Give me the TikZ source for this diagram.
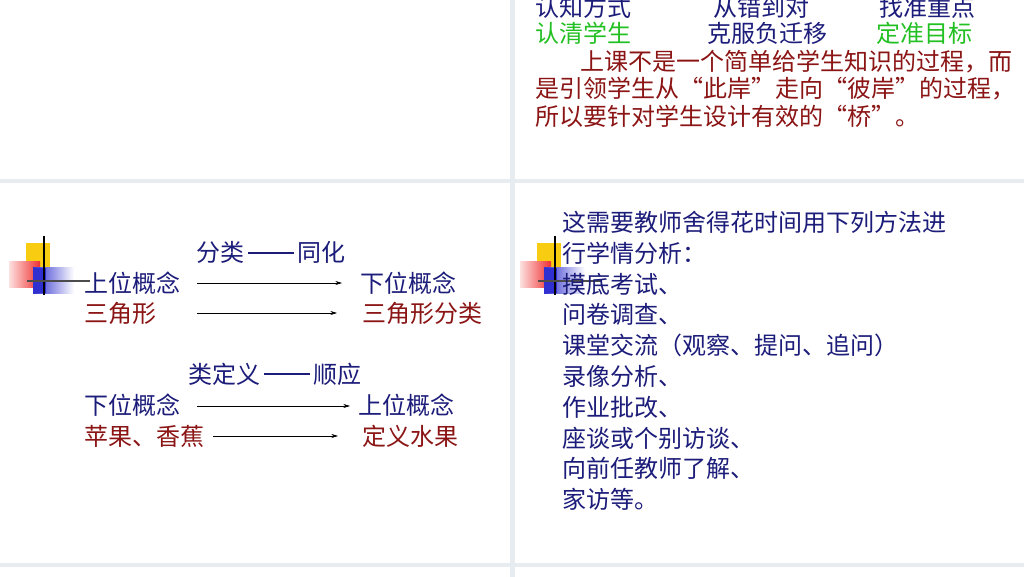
\documentclass[tikz,border=0pt]{standalone}
\usepackage{fontspec}
\setmainfont{Noto Sans CJK SC}
\usetikzlibrary{arrows.meta}
\definecolor{gapc}{HTML}{E6ECEF}
\definecolor{dblue}{HTML}{1C1C7A}
\definecolor{dred}{HTML}{8B1414}
\definecolor{lgreen}{HTML}{22C022}
\definecolor{yel}{HTML}{F8CC10}
\definecolor{rd}{HTML}{F03030}
\definecolor{bl}{HTML}{3030D0}
\newcommand{\ldash}{\,\rule[0.32em]{1.9em}{1.6pt}\,}
\tikzset{
 t/.style={anchor=base west,inner sep=0pt,font=\fontsize{18}{22}\selectfont},
 ar/.style={-{Stealth[length=5pt,width=3pt]},line width=0.5pt,black}
}
\newcommand{\deco}[2]{%
 \fill[yel] (#1+26,#2+243) rectangle (#1+50,#2+268);
 \shade[left color=rd!15,right color=rd] (#1+9,#2+262) rectangle (#1+40,#2+288);
 \shade[left color=bl,right color=white] (#1+33,#2+268) rectangle (#1+74,#2+293);
 \fill[bl] (#1+33,#2+268) rectangle (#1+46,#2+293);
 \draw[line width=1.2pt] (#1+44,#2+236) -- (#1+44,#2+295);
 \draw[line width=1.2pt,black!70] (#1+27,#2+281) -- (#1+90,#2+281);
}
\begin{document}
\begin{tikzpicture}[x=0.75pt,y=-0.75pt]
\useasboundingbox (0,0) rectangle (1024,577);
\fill[gapc] (0,0) rectangle (1024,577);
\fill[white] (0,0) rectangle (510,179);
\fill[white] (515,0) rectangle (1024,179);
\fill[white] (0,183) rectangle (510,563);
\fill[white] (515,183) rectangle (1024,563);
\fill[white] (0,567) rectangle (510,577);
\fill[white] (515,567) rectangle (1024,577);
% top right
\node[t,text=dblue] (a1) at (535,17) {认知方式};
\node[t,text=dblue] (a2) at (713,17) {从错到对};
\node[t,text=dblue] (a3) at (879,17) {找准重点};
\node[t,text=lgreen] (b1) at (535,43) {认清学生};
\node[t,text=dblue] (b2) at (707,43) {克服负迁移};
\node[t,text=lgreen] (b3) at (876,43) {定准目标};
\node[t,text=dred] (c1) at (580,71) {上课不是一个简单给学生知识的过程，而};
\node[t,text=dred] (c2) at (535,98) {是引领学生从“此岸”走向“彼岸”的过程，};
\node[t,text=dred] (c3) at (535,126) {所以要针对学生设计有效的“桥”。};
% left bottom
\deco{0}{0}
\node[t,text=dblue] (h1) at (196,262) {分类\ldash 同化};
\node[t,text=dblue] (l1) at (84,292) {上位概念};
\node[t,text=dblue] (r1) at (360,292) {下位概念};
\node[t,text=dred] (l2) at (84,322) {三角形};
\node[t,text=dred] (r2) at (362,322) {三角形分类};
\node[t,text=dblue] (h2) at (188,383) {类定义\ldash 顺应};
\node[t,text=dblue] (l3) at (84,414) {下位概念};
\node[t,text=dblue] (r3) at (358,414) {上位概念};
\node[t,text=dred] (l4) at (84,445) {苹果、香蕉};
\node[t,text=dred] (r4) at (362,445) {定义水果};
\coordinate (s1) at (197,283); \coordinate (e1) at (342,283);
\coordinate (s2) at (197,313); \coordinate (e2) at (337,313);
\coordinate (s3) at (197,406); \coordinate (e3) at (350,406);
\coordinate (s4) at (213,436); \coordinate (e4) at (338,436);
\draw[ar] (s1) -- (e1);
\draw[ar] (s2) -- (e2);
\draw[ar] (s3) -- (e3);
\draw[ar] (s4) -- (e4);
% right bottom
\deco{511}{0}
\node[t,text=dblue,align=left,font=\fontsize{18}{23.1}\selectfont,anchor=north west] (m) at (562,211) {这需要教师舍得花时间用下列方法进\\行学情分析：\\摸底考试、\\问卷调查、\\课堂交流（观察、提问、追问）\\录像分析、\\作业批改、\\座谈或个别访谈、\\向前任教师了解、\\家访等。};
\end{tikzpicture}
\end{document}
